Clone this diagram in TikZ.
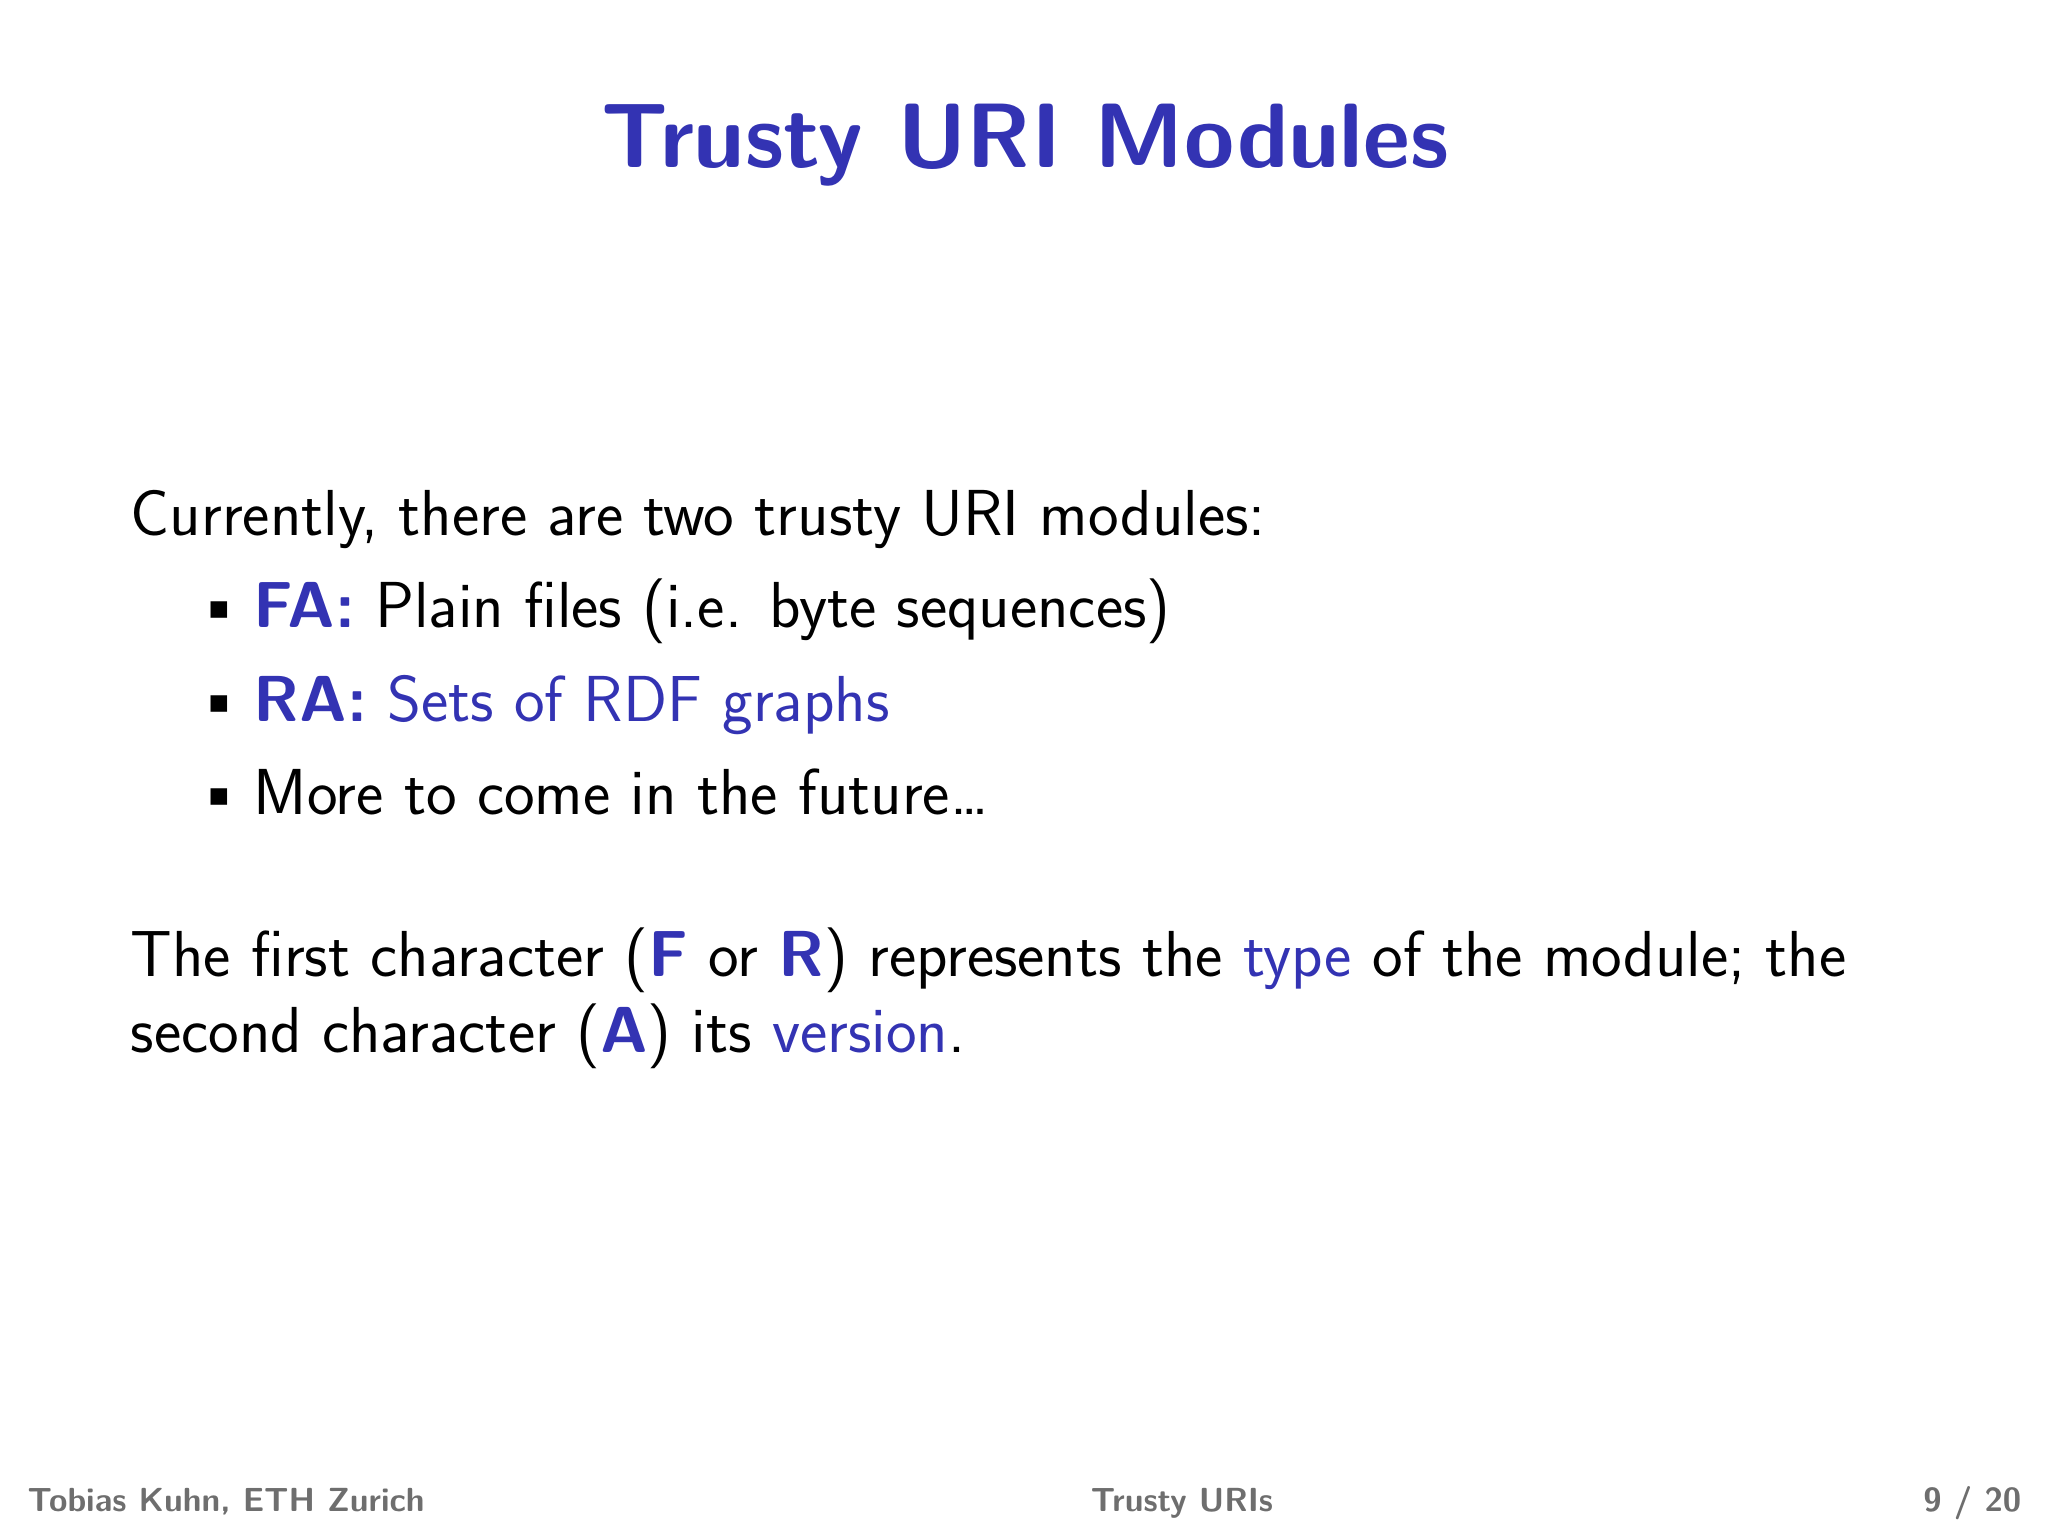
\documentclass[tikz,border=0pt]{standalone}
\usepackage{fontspec}
\setsansfont{Latin Modern Sans}
\definecolor{bblue}{RGB}{51,51,179}
\definecolor{fgray}{RGB}{110,110,110}
\begin{document}
\begin{tikzpicture}[
  body/.style={anchor=base west,inner sep=0,font=\sffamily\fontsize{18.5}{22}\selectfont},
  foot/.style={inner sep=0,anchor=base,font=\sffamily\bfseries\fontsize{9.5}{11}\selectfont,text=fgray}]
\useasboundingbox (0,0) rectangle (20.48,-15.36);
\node[inner sep=0,anchor=base,font=\sffamily\bfseries\fontsize{26}{30}\selectfont,text=bblue] (title) at (10.25,-1.68) {Trusty URI Modules};
\node[body] (l1) at (1.30,-5.35) {Currently, there are two trusty URI modules:};
\node[body] (b1) at (1.95,-6.28) {\textbullet};
\node[body] (t1) at (2.53,-6.28) {\textcolor{bblue}{\bfseries FA:} Plain files (i.e. byte sequences)};
\node[body] (b2) at (1.95,-7.21) {\textbullet};
\node[body] (t2) at (2.53,-7.21) {\textcolor{bblue}{\bfseries RA:} \textcolor{bblue}{Sets of RDF graphs}};
\node[body] (b3) at (1.95,-8.15) {\textbullet};
\node[body] (t3) at (2.53,-8.15) {More to come in the future\dots};
\node[body] (p1) at (1.30,-9.77) {The first character (\textcolor{bblue}{\bfseries F} or \textcolor{bblue}{\bfseries R}) represents the \textcolor{bblue}{type} of the module; the};
\node[body] (p2) at (1.30,-10.52) {second character (\textcolor{bblue}{\bfseries A}) its \textcolor{bblue}{version}.};
\node[foot,anchor=base west] (f1) at (0.27,-15.11) {Tobias Kuhn, ETH Zurich};
\node[foot] (f2) at (11.82,-15.11) {Trusty URIs};
\node[foot,anchor=base east] (f3) at (20.22,-15.11) {9 / 20};
\end{tikzpicture}
\end{document}
